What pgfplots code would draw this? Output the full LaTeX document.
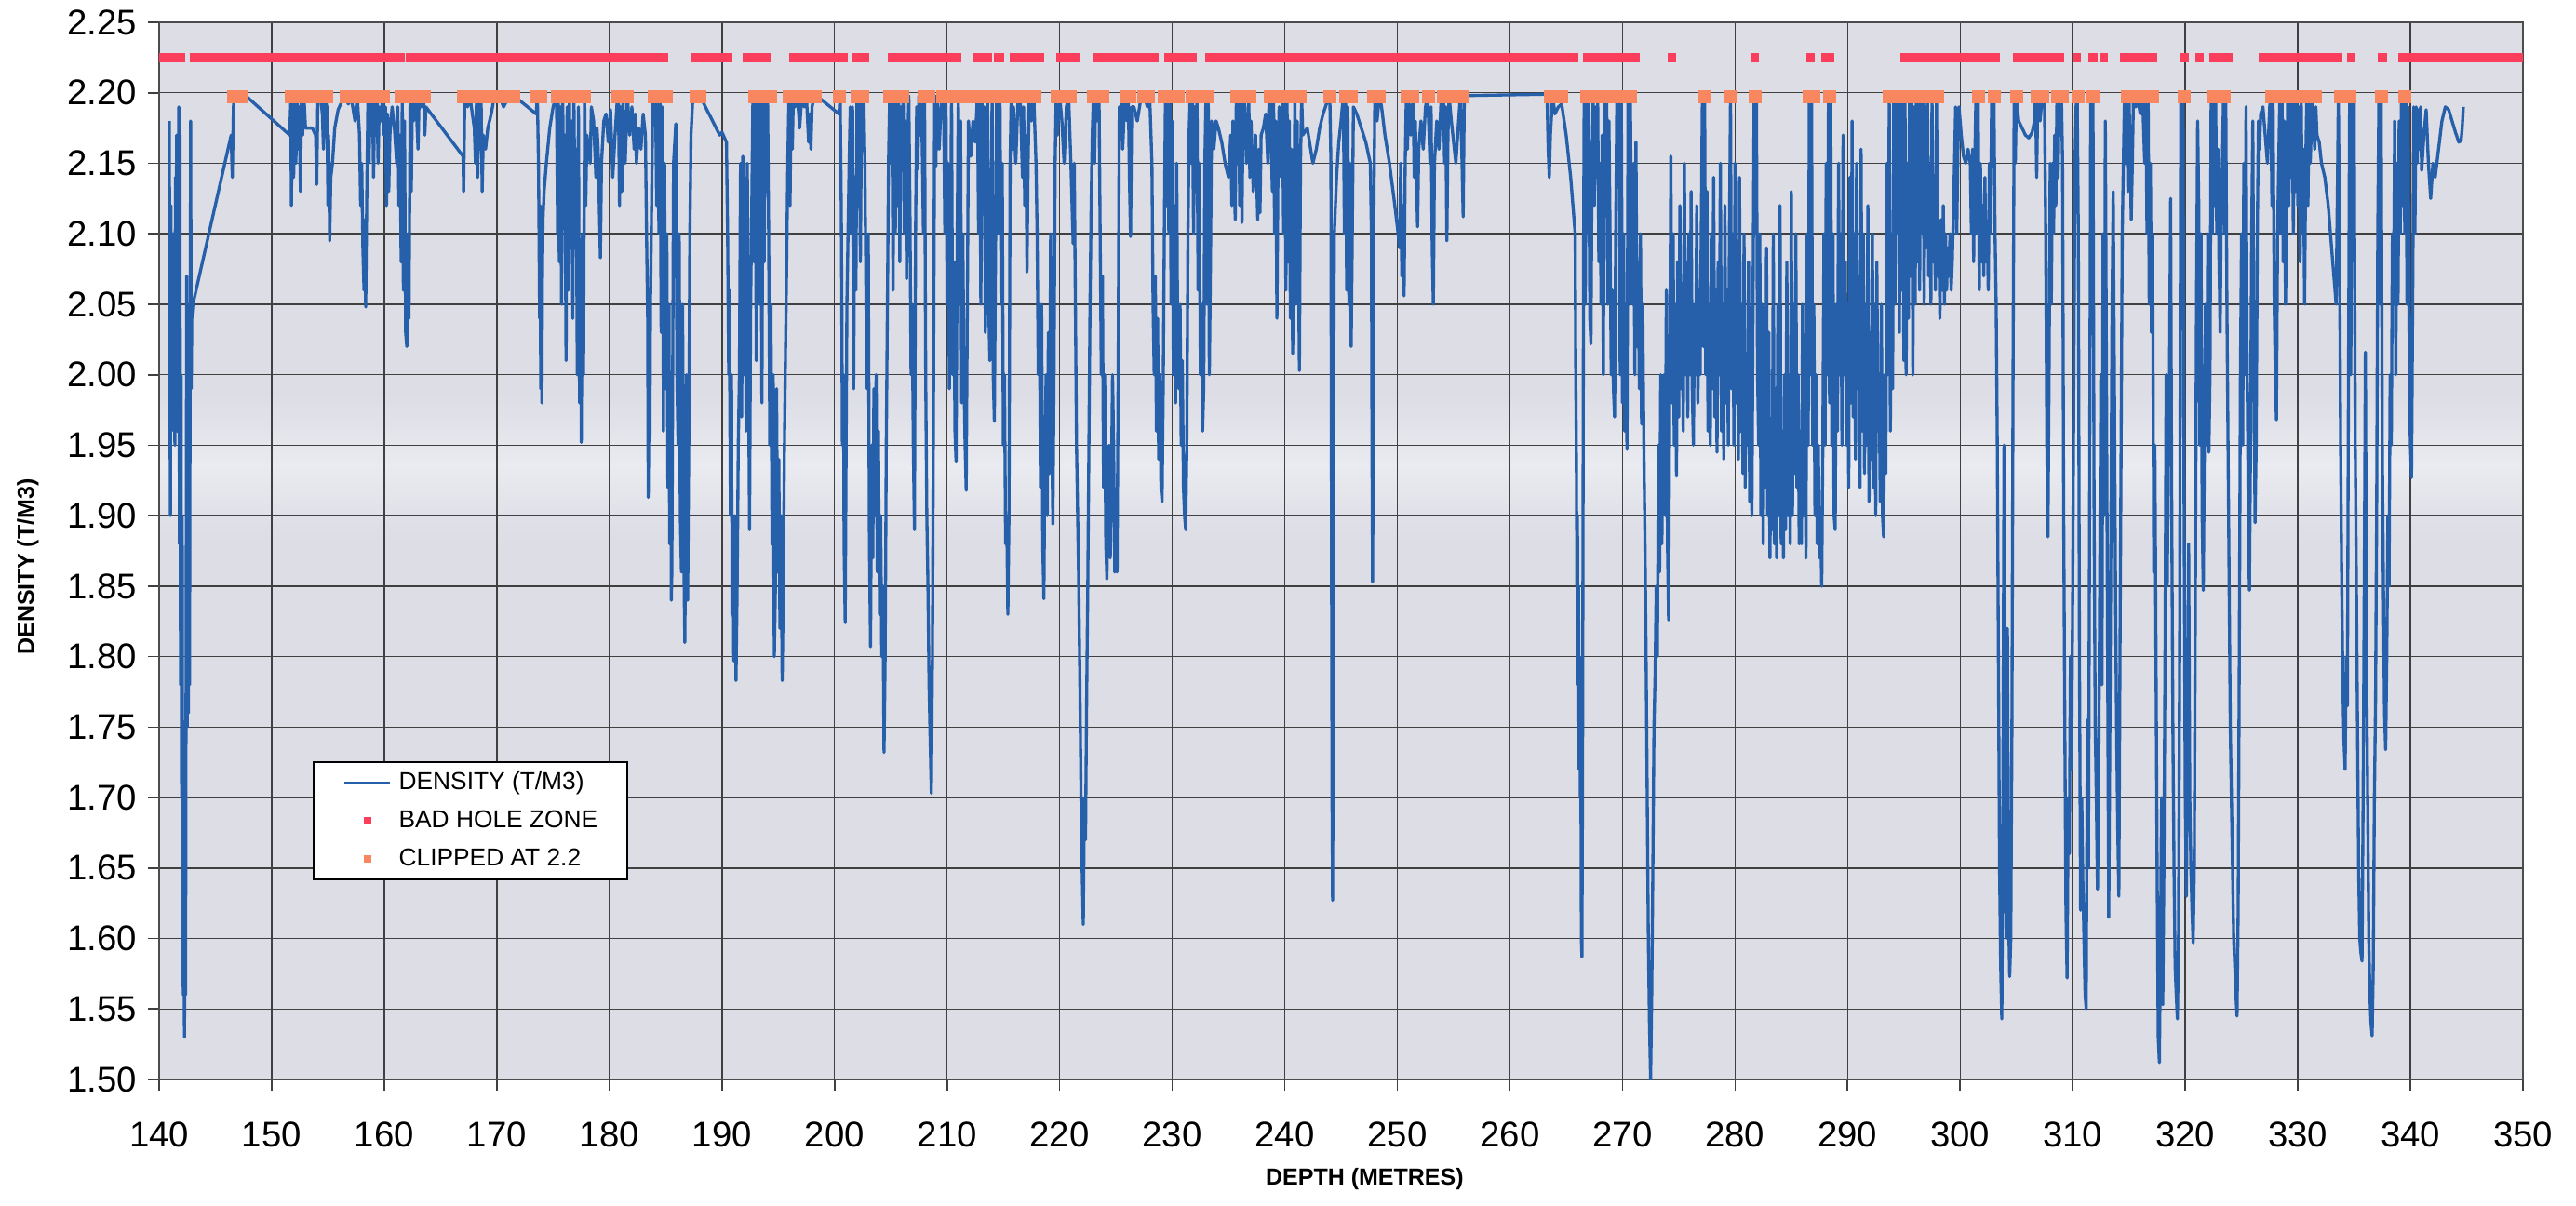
\documentclass[border=0pt]{standalone}
\usepackage{fontspec}
\setmainfont{Liberation Sans}
\usepackage{pgfplots}
\pgfplotsset{compat=1.18}
\definecolor{dblue}{RGB}{38,96,170}
\definecolor{badred}{RGB}{250,62,92}
\definecolor{clipor}{RGB}{248,135,95}
\definecolor{bggray}{RGB}{220,221,229}
\definecolor{bglight}{RGB}{234,235,240}
\pgfdeclareverticalshading{bgband}{100bp}{color(0bp)=(bggray); color(50.5bp)=(bggray); color(54bp)=(bglight); color(57.5bp)=(bggray); color(100bp)=(bggray)}
\begin{document}
\begin{tikzpicture}
\path[use as bounding box] (-51.3pt,-40.5pt) rectangle (779.1pt,348pt);
\begin{axis}[
  at={(0,0)}, anchor=south west,
  scale only axis, width=762pt, height=340.8pt,
  xmin=140, xmax=350, ymin=1.5, ymax=2.25,
  xtick={140,150,...,350},
  ytick={1.50,1.55,1.60,1.65,1.70,1.75,1.80,1.85,1.90,1.95,2.00,2.05,2.10,2.15,2.20,2.25},
  /pgf/number format/assume math mode=true,
  tick label style={font=\fontsize{11.5}{13}\selectfont},
  yticklabel style={/pgf/number format/.cd, fixed, fixed zerofill, precision=2},
  xticklabel style={yshift=-6.5pt, /pgf/number format/.cd, fixed, precision=0},
  tick align=outside, tick pos=left, major tick length=3.6pt,
  tick style={draw=black!75, line width=0.5pt},
  axis line style={draw=black!70, line width=0.6pt},
  grid=major, major grid style={draw=black!75, line width=0.45pt},
  axis background/.style={shade, shading=bgband},
  xlabel={DEPTH (METRES)}, ylabel={DENSITY (T/M3)},
  label style={font=\fontsize{7.5}{9}\selectfont\bfseries},
  xlabel style={at={(axis description cs:0.51,-0.094)}, anchor=center},
  ylabel style={at={(axis description cs:-0.0555,0.485)}, anchor=center},
  unbounded coords=jump,
  legend style={at={(axis description cs:0.0650,0.301)}, anchor=north west,
    draw=black, line width=0.5pt, fill=white,
    font=\fontsize{7.9}{9}\selectfont,
    inner xsep=9.6pt, inner ysep=2.75pt, row sep=4.6pt, column sep=2.4pt,
    nodes={inner sep=0pt, text height=6pt, text depth=1.7pt}},
  legend cell align=left,
]
\addplot[dblue, line width=1pt, line join=round,
  legend image code/.code={\draw[dblue, line width=0.8pt] (0pt,0pt) -- (14.7pt,0pt);}]
table {
x y
140.90 2.180
141.00 1.900
141.05 2.120
141.10 1.960
141.15 2.080
141.20 1.975
141.25 2.100
141.30 1.990
141.35 2.060
141.40 1.950
141.45 2.140
141.50 2.000
141.55 2.170
141.60 1.960
141.65 2.050
141.70 1.990
141.75 2.190
141.80 1.880
141.85 2.170
141.90 1.780
141.95 2.000
142.00 1.700
142.05 1.900
142.10 1.600
142.15 1.560
142.20 1.640
142.25 1.530
142.30 1.600
142.35 1.560
142.40 1.820
142.45 2.070
142.50 1.750
142.55 2.000
142.60 1.760
142.65 2.050
142.70 1.780
142.75 2.000
142.80 2.180
142.85 1.990
142.90 2.040
143.00 2.050
146.40 2.170
146.50 2.140
146.60 2.190
146.70 2.200
147.00 2.198
147.40 2.200
151.60 2.170
151.70 2.195
151.75 2.120
151.85 2.200
151.95 2.140
152.05 2.195
152.15 2.150
152.25 2.200
152.35 2.160
152.45 2.190
152.55 2.130
152.65 2.198
152.75 2.170
152.85 2.200
153.00 2.175
153.60 2.175
153.90 2.170
154.00 2.135
154.10 2.195
154.30 2.200
154.50 2.185
154.60 2.160
154.70 2.198
154.90 2.190
155.00 2.120
155.05 2.170
155.15 2.095
155.25 2.140
155.40 2.150
155.60 2.175
155.90 2.188
156.30 2.195
156.60 2.198
156.80 2.192
157.00 2.198
157.20 2.190
157.40 2.180
157.60 2.198
157.80 2.170
157.90 2.120
158.00 2.150
158.10 2.090
158.20 2.060
158.30 2.110
158.35 2.048
158.45 2.130
158.55 2.198
158.65 2.150
158.75 2.200
158.85 2.170
158.95 2.198
159.05 2.140
159.15 2.195
159.25 2.170
159.35 2.200
159.45 2.150
159.55 2.190
159.70 2.180
159.85 2.200
160.00 2.170
160.10 2.190
160.20 2.120
160.30 2.185
160.40 2.130
160.50 2.170
160.70 2.190
160.90 2.175
161.10 2.150
161.20 2.190
161.30 2.120
161.40 2.170
161.50 2.080
161.60 2.195
161.70 2.060
161.80 2.180
161.90 2.030
162.00 2.020
162.10 2.100
162.20 2.040
162.30 2.198
162.40 2.130
162.50 2.198
162.60 2.180
162.80 2.198
163.00 2.160
163.10 2.198
163.30 2.190
163.50 2.198
163.60 2.170
163.70 2.190
167.00 2.155
167.05 2.130
167.15 2.198
167.40 2.190
167.60 2.198
168.00 2.175
168.10 2.150
168.20 2.198
168.30 2.140
168.40 2.195
168.50 2.160
168.60 2.198
168.70 2.130
168.80 2.170
169.00 2.160
169.20 2.175
169.50 2.185
169.80 2.198
170.20 2.198
170.60 2.190
171.10 2.198
171.50 2.198
173.50 2.185
173.60 2.198
173.70 2.150
173.75 2.100
173.80 2.040
173.85 2.120
173.90 1.990
173.95 2.060
174.00 1.980
174.05 2.070
174.10 2.110
174.20 2.130
174.40 2.150
174.70 2.175
175.00 2.190
175.30 2.198
175.40 2.100
175.45 2.198
175.55 2.080
175.65 2.190
175.75 2.050
175.85 2.198
175.95 2.120
176.05 2.170
176.15 2.010
176.25 2.190
176.35 2.060
176.45 2.198
176.55 2.090
176.65 2.180
176.75 2.040
176.85 2.198
176.95 2.100
177.05 2.160
177.15 2.000
177.25 2.190
177.35 1.980
177.45 2.060
177.50 1.952
177.60 2.100
177.70 2.000
177.80 2.198
177.90 2.120
178.00 2.170
178.30 2.150
178.40 2.190
178.60 2.180
178.80 2.140
178.90 2.175
179.00 2.160
179.20 2.083
179.30 2.150
179.50 2.180
179.70 2.185
179.90 2.165
180.10 2.188
180.30 2.140
180.50 2.170
180.70 2.195
180.80 2.198
180.90 2.120
181.00 2.190
181.10 2.130
181.20 2.198
181.40 2.150
181.60 2.198
181.80 2.170
182.00 2.190
182.20 2.160
182.30 2.185
182.40 2.150
182.60 2.175
182.80 2.160
183.00 2.185
183.20 2.170
183.30 2.100
183.40 2.040
183.45 1.913
183.55 2.000
183.60 1.957
183.65 2.050
183.75 2.120
183.85 2.194
183.95 2.180
184.10 2.198
184.20 2.120
184.30 2.195
184.40 2.100
184.50 2.198
184.60 2.030
184.70 2.190
184.80 1.960
184.90 2.150
185.00 1.990
185.10 2.100
185.20 1.920
185.30 2.050
185.35 1.880
185.45 2.000
185.50 1.840
185.55 1.860
185.65 2.050
185.70 2.150
185.90 2.178
186.00 2.000
186.10 1.950
186.20 2.100
186.30 1.900
186.40 1.860
186.50 2.050
186.60 1.880
186.70 1.810
186.75 1.860
186.85 2.000
186.95 1.840
187.05 1.950
187.15 2.100
187.25 2.170
187.40 2.195
187.60 2.198
187.90 2.200
189.80 2.170
190.00 2.172
190.40 2.165
190.50 2.100
190.60 2.000
190.65 2.060
190.75 1.900
190.85 2.000
190.90 1.830
191.00 1.860
191.05 1.797
191.15 1.900
191.25 1.783
191.35 1.850
191.45 1.950
191.55 2.000
191.65 2.150
191.75 1.970
191.85 2.155
191.95 2.000
192.05 2.100
192.15 1.960
192.25 2.150
192.35 2.020
192.45 1.890
192.55 2.050
192.65 2.120
192.75 2.198
192.85 2.080
192.95 2.198
193.05 2.010
193.15 2.150
193.25 2.198
193.35 2.050
193.45 2.195
193.55 1.980
193.65 2.198
193.75 2.080
193.85 2.200
193.95 2.130
194.05 2.198
194.15 2.100
194.25 1.950
194.35 2.050
194.45 1.880
194.55 2.000
194.65 1.800
194.75 1.850
194.85 1.990
194.95 1.860
195.05 1.940
195.15 1.820
195.25 1.900
195.35 1.783
195.45 1.850
195.55 1.950
195.65 2.020
195.75 2.080
195.85 2.150
195.95 2.198
196.05 2.120
196.15 2.198
196.25 2.160
196.35 2.200
196.50 2.190
196.70 2.198
196.90 2.175
197.10 2.198
197.30 2.190
197.50 2.198
197.70 2.165
197.80 2.185
197.90 2.160
198.00 2.190
198.20 2.198
198.40 2.198
200.40 2.185
200.50 2.198
200.60 2.120
200.65 2.050
200.70 1.950
200.80 2.000
200.85 1.880
200.95 1.824
201.00 1.900
201.10 2.050
201.20 2.100
201.30 2.150
201.40 2.190
201.50 2.100
201.60 2.190
201.70 1.990
201.80 2.140
201.90 2.060
202.00 2.198
202.10 2.120
202.20 2.198
202.30 2.080
202.40 2.195
202.50 2.170
202.60 2.198
202.70 2.150
202.80 2.050
202.90 1.990
203.00 2.100
203.10 1.880
203.20 1.807
203.30 1.950
203.40 1.870
203.50 1.990
203.60 1.900
203.70 2.000
203.80 1.860
203.90 1.960
204.00 1.830
204.10 1.900
204.20 1.800
204.30 1.850
204.40 1.732
204.50 1.800
204.60 1.950
204.70 2.050
204.80 2.150
204.90 2.198
205.00 2.150
205.10 2.200
205.20 2.060
205.30 2.198
205.40 2.100
205.50 2.195
205.60 2.120
205.70 2.198
205.80 2.080
205.90 2.190
206.00 2.150
206.10 2.198
206.20 2.100
206.30 2.180
206.40 2.068
206.50 2.160
206.60 2.198
206.70 2.120
206.80 2.000
206.90 2.050
207.00 1.950
207.10 1.890
207.20 2.100
207.30 2.190
207.40 2.146
207.50 2.198
207.60 2.170
207.70 2.200
207.80 2.160
207.90 2.100
208.00 2.198
208.10 2.000
208.20 1.900
208.30 1.850
208.40 1.780
208.50 1.740
208.60 1.703
208.70 1.800
208.80 2.000
208.90 2.198
209.00 2.148
209.10 2.198
209.30 2.160
209.50 2.198
209.70 2.190
209.80 2.100
209.90 2.198
210.00 2.050
210.10 2.150
210.20 1.990
210.30 2.100
210.40 2.198
210.50 2.000
210.60 2.080
210.70 1.960
210.80 1.938
210.90 2.100
211.00 2.198
211.10 2.050
211.20 2.180
211.30 1.980
211.40 2.100
211.50 2.000
211.60 1.950
211.70 1.918
211.80 2.050
211.90 2.180
212.10 2.155
212.30 2.180
212.50 2.165
212.70 2.198
212.80 2.100
212.90 2.198
213.00 2.050
213.10 2.198
213.20 2.120
213.30 2.190
213.40 2.030
213.50 2.150
213.60 2.198
213.70 2.050
213.80 2.010
213.90 2.100
214.00 2.198
214.10 2.000
214.20 1.967
214.30 2.080
214.40 2.198
214.50 2.100
214.60 2.160
214.70 2.198
214.80 2.050
214.90 2.150
215.00 1.950
215.10 2.000
215.20 1.880
215.30 1.900
215.40 1.830
215.50 1.900
215.60 2.150
215.70 2.198
215.80 2.160
215.90 2.190
216.10 2.150
216.30 2.195
216.50 2.198
216.70 2.140
216.80 2.190
216.90 2.120
217.00 2.170
217.10 2.073
217.20 2.150
217.30 2.198
217.50 2.180
217.70 2.198
217.90 2.150
218.00 2.100
218.10 2.000
218.20 2.050
218.30 1.920
218.40 2.050
218.50 1.880
218.60 1.841
218.70 1.950
218.80 2.000
218.90 1.900
219.00 2.030
219.10 1.930
219.20 2.100
219.30 1.960
219.40 1.894
219.50 2.000
219.60 2.150
219.70 2.198
219.80 2.170
220.00 2.198
220.20 2.180
220.40 2.150
220.60 2.190
220.80 2.198
221.00 2.150
221.20 2.093
221.30 2.150
221.40 2.050
221.50 1.950
221.60 1.900
221.70 1.850
221.80 1.780
221.90 1.700
222.00 1.650
222.10 1.610
222.20 1.700
222.30 1.670
222.40 1.770
222.50 1.850
222.60 1.950
222.70 2.050
222.80 2.120
222.90 2.170
223.00 2.198
223.10 2.150
223.20 2.198
223.40 2.180
223.50 2.198
223.60 2.100
223.70 2.000
223.80 2.070
223.90 1.920
224.00 2.000
224.10 1.880
224.20 1.855
224.30 1.900
224.40 1.950
224.50 1.870
224.60 1.920
224.70 2.000
224.80 1.950
224.90 1.860
225.00 1.900
225.10 1.860
225.20 2.000
225.30 2.190
225.40 2.170
225.50 2.195
225.60 2.160
225.80 2.198
226.00 2.180
226.10 2.198
226.20 2.140
226.30 2.098
226.40 2.190
226.60 2.190
226.90 2.180
227.20 2.195
227.50 2.198
227.80 2.190
228.00 2.198
228.20 2.150
228.30 2.050
228.40 2.000
228.50 2.070
228.60 1.960
228.70 2.040
228.80 1.940
228.90 2.000
229.00 1.920
229.10 1.910
229.20 1.990
229.30 2.100
229.40 2.198
229.50 2.120
229.60 2.198
229.70 2.100
229.80 2.198
229.90 2.050
230.00 2.180
230.10 2.000
230.20 2.120
230.30 1.980
230.40 2.150
230.50 2.000
230.60 1.990
230.70 2.050
230.80 1.950
230.90 2.010
231.00 1.920
231.10 1.900
231.20 1.890
231.30 1.950
231.40 2.100
231.50 2.170
231.60 2.198
231.70 2.150
231.80 2.198
231.90 2.100
232.00 2.190
232.10 2.130
232.20 2.198
232.30 2.060
232.40 2.150
232.50 2.000
232.60 2.050
232.70 1.960
232.80 1.990
232.90 2.150
233.00 2.198
233.10 2.050
233.20 2.198
233.30 2.000
233.40 2.080
233.50 2.180
233.70 2.160
233.90 2.180
234.10 2.175
234.40 2.165
234.70 2.150
235.00 2.140
235.20 2.170
235.30 2.120
235.40 2.180
235.60 2.110
235.70 2.198
235.80 2.150
235.90 2.198
236.00 2.120
236.10 2.195
236.20 2.108
236.30 2.190
236.40 2.198
236.60 2.150
236.80 2.198
236.90 2.140
237.00 2.180
237.20 2.130
237.40 2.170
237.60 2.110
237.70 2.160
237.80 2.115
237.90 2.170
238.10 2.175
238.30 2.185
238.50 2.150
238.60 2.195
238.70 2.198
238.90 2.130
239.00 2.198
239.10 2.100
239.20 2.180
239.30 2.040
239.40 2.150
239.50 2.190
239.70 2.140
239.80 2.198
239.90 2.100
240.00 2.198
240.10 2.060
240.20 2.198
240.30 2.080
240.40 2.180
240.50 2.040
240.60 2.160
240.70 2.015
240.80 2.100
240.90 2.198
241.00 2.050
241.10 2.180
241.20 2.100
241.30 2.003
241.40 2.150
241.50 2.198
241.60 2.170
242.00 2.175
242.20 2.165
242.50 2.150
242.80 2.160
243.10 2.175
243.40 2.185
243.70 2.192
244.00 2.198
244.10 2.150
244.15 1.900
244.20 1.700
244.25 1.627
244.30 1.800
244.35 2.000
244.40 2.100
244.60 2.140
244.80 2.165
245.00 2.180
245.20 2.198
245.30 2.100
245.40 2.198
245.50 2.060
245.60 2.190
245.70 2.050
245.80 2.150
245.90 2.020
246.00 2.100
246.10 2.190
246.40 2.185
246.80 2.175
247.20 2.165
247.60 2.150
247.70 2.100
247.75 1.950
247.80 1.853
247.85 1.950
247.90 2.100
248.00 2.198
248.20 2.180
248.40 2.198
248.60 2.190
248.90 2.170
249.30 2.150
249.70 2.125
250.00 2.105
250.20 2.090
250.30 2.150
250.40 2.070
250.50 2.120
250.60 2.056
250.70 2.150
250.80 2.198
250.90 2.160
251.00 2.198
251.20 2.170
251.40 2.198
251.50 2.140
251.60 2.180
251.80 2.105
251.90 2.160
252.10 2.180
252.30 2.160
252.50 2.190
252.70 2.198
252.90 2.150
253.00 2.190
253.10 2.090
253.20 2.050
253.30 2.150
253.50 2.180
253.70 2.160
253.90 2.198
254.10 2.198
254.20 2.150
254.30 2.190
254.40 2.095
254.50 2.170
254.60 2.198
254.80 2.180
255.00 2.165
255.20 2.150
255.40 2.175
255.60 2.198
255.75 2.150
255.85 2.112
255.95 2.198
263.30 2.199
263.40 2.160
263.50 2.140
263.60 2.170
263.80 2.198
264.00 2.185
264.30 2.190
264.60 2.192
265.00 2.170
265.40 2.140
265.70 2.110
265.80 2.100
265.85 2.000
265.90 1.950
265.95 1.850
266.00 1.900
266.05 1.780
266.10 1.850
266.15 1.720
266.20 1.800
266.25 1.700
266.30 1.750
266.35 1.600
266.40 1.587
266.45 1.700
266.50 1.900
266.55 2.100
266.60 2.198
266.70 2.050
266.80 2.198
266.90 2.100
267.00 2.195
267.10 2.040
267.20 2.022
267.30 2.150
267.40 2.198
267.50 2.120
267.60 2.190
267.70 2.140
267.80 2.195
267.90 2.080
268.00 2.150
268.10 2.050
268.20 2.170
268.30 2.000
268.40 2.198
268.50 2.120
268.60 2.198
268.70 2.050
268.80 2.180
268.90 2.100
269.00 2.000
269.10 2.060
269.20 1.990
269.30 1.970
269.40 2.100
269.50 2.198
269.60 2.150
269.70 2.198
269.80 2.000
269.90 2.198
270.00 1.980
270.10 2.100
270.20 1.960
270.30 2.050
270.40 1.947
270.50 2.198
270.60 2.050
270.70 2.198
270.80 2.100
270.90 2.050
271.00 2.150
271.10 2.000
271.20 2.165
271.30 2.020
271.40 2.080
271.50 1.990
271.60 2.100
271.70 1.965
271.80 2.050
271.90 1.950
272.00 1.880
272.10 1.800
272.20 1.700
272.30 1.600
272.40 1.540
272.50 1.500
272.60 1.560
272.70 1.650
272.80 1.750
272.90 1.787
273.00 1.850
273.10 1.800
273.20 1.950
273.30 1.860
273.40 2.000
273.50 1.880
273.60 1.950
273.70 2.000
273.80 1.900
273.90 2.060
274.00 1.880
274.10 1.826
274.20 2.000
274.30 2.155
274.40 1.980
274.50 2.100
274.60 1.950
274.70 2.050
274.80 1.928
274.90 2.080
275.00 1.970
275.10 2.120
275.20 1.990
275.30 2.060
275.40 1.960
275.50 2.150
275.60 2.000
275.70 2.080
275.80 1.970
275.90 2.100
276.00 2.000
276.10 2.130
276.20 1.990
276.30 1.950
276.40 2.050
276.50 2.000
276.60 2.120
276.70 1.980
276.80 2.060
276.90 2.000
277.00 2.100
277.10 2.198
277.20 2.020
277.30 2.198
277.40 2.000
277.50 2.130
277.60 1.960
277.70 2.050
277.80 1.950
277.90 2.100
278.00 1.990
278.10 2.140
278.20 1.970
278.30 2.060
278.40 1.945
278.50 2.080
278.60 2.000
278.70 2.150
278.80 1.960
278.90 2.050
279.00 1.940
279.10 2.120
279.20 1.980
279.30 2.060
279.40 1.950
279.50 2.100
279.60 2.198
279.70 1.990
279.80 2.100
279.90 1.950
280.00 2.150
280.10 1.980
280.20 2.060
280.30 1.940
280.40 2.140
280.50 1.960
280.60 2.050
280.70 1.930
280.80 2.100
280.90 1.920
281.00 2.000
281.10 1.950
281.20 2.080
281.30 1.910
281.40 1.960
281.50 1.900
281.60 2.050
281.70 2.198
281.80 2.100
281.90 2.198
282.00 2.000
282.10 1.950
282.20 2.100
282.30 1.900
282.40 2.050
282.50 1.880
282.60 2.000
282.70 1.920
282.80 2.090
282.90 1.900
283.00 2.030
283.10 1.870
283.20 1.950
283.30 1.890
283.40 2.100
283.50 1.880
283.60 1.990
283.70 1.870
283.80 2.050
283.90 1.900
284.00 2.120
284.10 1.880
284.20 1.960
284.30 1.870
284.40 2.000
284.50 1.890
284.60 2.080
284.70 1.900
284.80 2.000
284.90 1.880
285.00 2.130
285.10 1.900
285.20 2.050
285.30 1.930
285.40 2.100
285.50 1.920
285.60 2.000
285.70 1.880
285.80 1.960
285.90 1.880
286.00 2.050
286.10 1.900
286.20 2.010
286.30 1.870
286.40 2.100
286.50 1.950
286.60 2.198
286.70 2.000
286.80 2.198
286.90 1.950
287.00 2.050
287.10 1.900
287.20 2.000
287.30 1.880
287.40 1.950
287.50 1.870
287.60 1.900
287.70 1.850
287.80 1.950
287.90 2.100
288.00 1.950
288.10 2.150
288.20 2.000
288.30 2.198
288.40 1.980
288.50 2.198
288.60 1.950
288.70 2.100
288.80 1.900
288.90 1.890
289.00 2.050
289.10 1.960
289.20 2.150
289.30 2.000
289.40 2.100
289.50 1.950
289.60 2.170
289.70 2.000
289.80 2.080
289.90 1.950
290.00 2.050
290.10 1.920
290.20 2.140
290.30 1.980
290.40 2.180
290.50 1.970
290.60 2.100
290.70 1.940
290.80 2.150
290.90 1.990
291.00 2.070
291.10 1.920
291.20 2.160
291.30 1.960
291.40 2.100
291.50 1.930
291.60 2.050
291.70 1.950
291.80 2.120
291.90 1.910
292.00 2.000
292.10 1.940
292.20 2.100
292.30 1.920
292.40 2.050
292.50 1.900
292.60 2.080
292.70 1.960
292.80 2.000
292.90 1.910
293.00 2.050
293.10 1.900
293.20 1.885
293.30 2.000
293.40 1.930
293.50 2.150
293.60 2.000
293.70 2.198
293.80 1.960
293.90 2.100
294.00 1.990
294.10 2.198
294.20 2.050
294.30 2.198
294.40 2.100
294.50 2.198
294.60 2.030
294.70 2.198
294.80 2.060
294.90 2.198
295.00 2.010
295.10 2.198
295.20 2.000
295.30 2.150
295.40 2.040
295.50 2.198
295.60 2.070
295.70 2.198
295.80 2.000
295.90 2.190
296.00 2.050
296.10 2.198
296.20 2.080
296.30 2.198
296.40 2.060
296.50 2.198
296.60 2.100
296.70 2.198
296.80 2.050
296.90 2.190
297.00 2.090
297.10 2.198
297.20 2.070
297.30 2.150
297.40 2.050
297.50 2.198
297.60 2.080
297.70 2.120
297.80 2.060
297.90 2.198
298.00 2.070
298.10 2.100
298.20 2.040
298.30 2.110
298.40 2.060
298.50 2.120
298.60 2.050
298.70 2.100
298.80 2.060
298.90 2.090
299.00 2.070
299.10 2.100
299.20 2.060
299.30 2.080
299.50 2.150
299.60 2.190
299.70 2.100
299.80 2.160
299.90 2.190
300.10 2.170
300.30 2.155
300.50 2.150
300.70 2.160
300.90 2.150
301.00 2.100
301.10 2.160
301.20 2.080
301.30 2.150
301.40 2.198
301.50 2.100
301.60 2.198
301.70 2.060
301.80 2.150
301.90 2.080
302.00 2.120
302.10 2.070
302.20 2.140
302.30 2.080
302.40 2.100
302.50 2.060
302.60 2.150
302.70 2.100
302.80 2.198
302.90 2.150
303.00 2.198
303.10 2.100
303.20 2.050
303.30 1.950
303.40 1.800
303.50 1.650
303.60 1.580
303.70 1.543
303.80 1.700
303.90 1.950
304.00 1.650
304.10 1.600
304.20 1.820
304.30 1.620
304.40 1.573
304.50 1.600
304.60 1.750
304.70 2.000
304.80 2.198
304.90 2.150
305.00 2.198
305.20 2.180
305.50 2.175
305.80 2.170
306.10 2.168
306.40 2.172
306.60 2.180
306.70 2.198
306.80 2.140
306.90 2.198
307.10 2.180
307.30 2.198
307.50 2.190
307.60 2.100
307.70 1.950
307.80 1.885
307.90 2.000
308.00 2.150
308.10 2.050
308.20 2.150
308.30 2.100
308.40 2.170
308.50 2.120
308.60 2.198
308.70 2.140
308.80 2.198
308.90 2.180
309.00 2.198
309.10 2.150
309.20 1.900
309.30 1.750
309.40 1.620
309.50 1.572
309.60 1.700
309.70 1.660
309.80 1.800
309.90 1.720
310.00 1.850
310.10 2.000
310.20 2.150
310.30 2.190
310.40 2.198
310.50 2.100
310.60 1.800
310.70 1.620
310.80 1.700
310.90 1.640
311.00 1.600
311.10 1.560
311.20 1.550
311.30 1.755
311.40 1.650
311.50 1.900
311.60 2.198
311.70 2.150
311.80 2.198
311.90 1.900
312.00 1.750
312.10 1.700
312.20 1.635
312.30 1.700
312.40 1.850
312.50 2.000
312.60 1.780
312.70 2.100
312.80 1.900
312.90 2.180
313.00 2.000
313.10 1.800
313.20 1.615
313.30 1.750
313.40 1.900
313.50 2.050
313.60 2.130
313.70 2.000
313.80 1.850
313.90 1.750
314.00 1.680
314.10 1.630
314.20 1.800
314.30 1.950
314.40 2.100
314.50 2.150
314.60 2.198
314.70 2.150
314.80 2.198
314.90 2.130
315.00 2.198
315.10 2.160
315.20 2.110
315.30 2.150
315.40 2.198
315.60 2.190
315.80 2.195
316.00 2.185
316.20 2.198
316.40 2.150
316.50 2.198
316.60 2.100
316.70 2.198
316.80 2.050
316.90 2.150
317.00 2.030
317.10 2.100
317.20 1.860
317.30 1.950
317.40 1.800
317.50 1.650
317.60 1.530
317.70 1.512
317.80 1.600
317.90 1.700
318.00 1.553
318.10 1.650
318.20 1.800
318.30 2.000
318.40 1.850
318.50 1.950
318.60 2.000
318.70 2.125
318.80 1.900
318.90 1.750
319.00 1.650
319.10 1.580
319.20 1.560
319.30 1.543
319.40 1.600
319.50 1.800
319.60 2.198
319.70 2.100
319.80 2.198
319.90 1.900
320.00 1.700
320.10 1.630
320.20 1.750
320.30 1.880
320.40 1.700
320.50 1.650
320.60 1.620
320.70 1.597
320.80 1.650
320.90 1.850
321.00 2.050
321.10 2.180
321.20 2.120
321.30 1.950
321.40 2.100
321.50 1.900
321.60 1.847
321.70 1.950
321.80 2.050
321.90 1.950
322.00 2.100
322.10 1.945
322.20 2.000
322.30 2.198
322.40 2.100
322.50 2.198
322.60 2.120
322.70 2.198
322.80 2.100
322.90 2.160
323.00 2.080
323.10 2.030
323.20 2.120
323.30 2.150
323.40 2.198
323.50 2.100
323.60 2.198
323.70 2.050
323.80 1.950
323.90 1.850
324.00 1.750
324.10 1.700
324.20 1.650
324.30 1.600
324.40 1.580
324.50 1.560
324.60 1.545
324.70 1.620
324.80 1.800
324.90 2.000
325.00 2.100
325.10 1.950
325.20 2.150
325.30 2.000
325.40 2.190
325.50 2.000
325.60 1.900
325.70 1.847
325.80 1.950
325.90 2.100
326.00 2.180
326.10 2.000
326.20 1.895
326.30 1.950
326.40 2.100
326.50 2.180
326.60 2.160
326.70 2.185
326.90 2.190
327.10 2.170
327.30 2.150
327.50 2.190
327.60 2.198
327.70 2.120
327.80 2.198
327.90 2.050
328.00 2.000
328.10 1.968
328.20 2.100
328.30 2.150
328.40 2.198
328.50 2.100
328.60 2.198
328.70 2.080
328.80 2.180
328.90 2.050
329.00 2.100
329.10 2.198
329.20 2.120
329.30 2.198
329.40 2.140
329.50 2.198
329.60 2.100
329.70 2.198
329.80 2.130
329.90 2.198
330.00 2.120
330.10 2.190
330.20 2.080
330.30 2.198
330.40 2.100
330.50 2.160
330.60 2.050
330.70 2.150
330.80 2.198
330.90 2.120
331.00 2.198
331.10 2.150
331.30 2.198
331.50 2.160
331.60 2.190
331.70 2.170
331.90 2.165
332.10 2.150
332.40 2.140
332.70 2.120
333.00 2.090
333.20 2.070
333.40 2.050
333.50 2.120
333.60 2.198
333.70 2.100
333.80 1.950
333.90 1.850
334.00 1.780
334.10 1.740
334.20 1.720
334.30 1.800
334.40 1.765
334.50 2.000
334.60 2.198
334.70 2.000
334.80 2.198
334.90 2.100
335.00 2.198
335.10 1.950
335.20 1.850
335.30 1.750
335.40 1.650
335.50 1.600
335.60 1.590
335.70 1.584
335.80 1.700
335.90 1.850
336.00 2.016
336.10 1.800
336.20 1.700
336.30 1.600
336.40 1.560
336.50 1.540
336.60 1.531
336.70 1.580
336.80 1.700
336.90 1.765
337.00 1.900
337.10 2.100
337.20 2.198
337.30 2.050
337.40 2.198
337.50 1.950
337.60 1.850
337.70 1.760
337.80 1.734
337.90 1.800
338.00 1.900
338.10 1.850
338.20 2.000
338.30 1.950
338.40 2.100
338.50 2.050
338.60 2.180
338.70 2.000
338.80 2.150
338.90 2.050
339.00 2.180
339.10 2.100
339.20 2.198
339.30 2.120
339.40 2.198
339.50 2.100
339.60 2.198
339.70 2.050
339.80 2.190
339.90 2.000
340.00 1.950
340.10 1.927
340.20 2.050
340.30 2.190
340.40 2.100
340.50 2.190
340.60 2.150
340.70 2.188
340.80 2.160
340.90 2.190
341.00 2.145
341.20 2.170
341.40 2.188
341.60 2.150
341.80 2.125
342.00 2.150
342.20 2.140
342.50 2.160
342.80 2.180
343.10 2.190
343.40 2.188
343.70 2.180
344.00 2.172
344.30 2.165
344.50 2.166
344.60 2.175
344.70 2.190
};
\addlegendentry{DENSITY (T/M3)}
\addplot[badred, line width=3.1pt, line cap=butt,
  legend image code/.code={\fill[badred, draw=none, line width=0pt] (6.1pt,-1.2pt) rectangle ++(2.4pt,2.4pt);}]
table {
x y
140.0 2.225
142.3 2.225
nan nan
142.7 2.225
161.85 2.225
nan nan
161.95 2.225
185.2 2.225
nan nan
187.2 2.225
190.9 2.225
nan nan
191.8 2.225
194.3 2.225
nan nan
196.0 2.225
201.2 2.225
nan nan
201.6 2.225
203.1 2.225
nan nan
204.7 2.225
211.3 2.225
nan nan
212.3 2.225
214.0 2.225
nan nan
214.2 2.225
215.1 2.225
nan nan
215.6 2.225
218.6 2.225
nan nan
219.7 2.225
221.8 2.225
nan nan
223.0 2.225
228.8 2.225
nan nan
229.3 2.225
232.2 2.225
nan nan
232.9 2.225
266.1 2.225
nan nan
266.5 2.225
271.5 2.225
nan nan
274.0 2.225
274.8 2.225
nan nan
281.5 2.225
282.1 2.225
nan nan
286.3 2.225
287.1 2.225
nan nan
287.7 2.225
288.8 2.225
nan nan
294.7 2.225
303.5 2.225
nan nan
304.7 2.225
309.2 2.225
nan nan
310.0 2.225
310.7 2.225
nan nan
311.4 2.225
312.2 2.225
nan nan
312.5 2.225
313.1 2.225
nan nan
314.2 2.225
317.5 2.225
nan nan
319.6 2.225
320.3 2.225
nan nan
320.9 2.225
321.6 2.225
nan nan
322.1 2.225
324.2 2.225
nan nan
326.5 2.225
334.0 2.225
nan nan
334.4 2.225
335.1 2.225
nan nan
337.1 2.225
337.9 2.225
nan nan
338.9 2.225
350.0 2.225
};
\addlegendentry{BAD HOLE ZONE}
\addplot[only marks, mark=square*, mark size=1.9pt, mark options={draw=clipor, fill=clipor},
  legend image code/.code={\fill[clipor, draw=none, line width=0pt] (6.1pt,-1.2pt) rectangle ++(2.4pt,2.4pt);}]
coordinates {
(146.6,2.197)(147.0,2.197)(147.3,2.197)(151.7,2.197)(152.0,2.197)(152.3,2.197)(152.6,2.197)(152.9,2.197)(153.2,2.197)
(154.3,2.197)(154.6,2.197)(154.9,2.197)(156.6,2.197)(157.0,2.197)(157.6,2.197)(158.7,2.197)(159.0,2.197)(159.3,2.197)
(159.6,2.197)(159.9,2.197)(161.5,2.197)(161.8,2.197)(162.1,2.197)(162.5,2.197)(162.9,2.197)(163.3,2.197)(163.6,2.197)
(167.0,2.197)(167.4,2.197)(168.1,2.197)(168.5,2.197)(168.9,2.197)(169.8,2.197)(170.2,2.197)(171.1,2.197)(171.5,2.197)
(173.5,2.197)(173.9,2.197)(175.4,2.197)(175.7,2.197)(176.0,2.197)(176.3,2.197)(176.6,2.197)(176.9,2.197)(177.2,2.197)
(177.5,2.197)(177.8,2.197)(180.8,2.197)(181.2,2.197)(181.6,2.197)(184.0,2.197)(184.3,2.197)(184.7,2.197)(185.1,2.197)
(187.7,2.197)(188.0,2.197)(192.9,2.197)(193.9,2.197)(194.3,2.197)(196.0,2.197)(196.4,2.197)(196.8,2.197)(197.2,2.197)
(197.6,2.197)(198.0,2.197)(198.3,2.197)(200.4,2.197)(202.0,2.197)(202.5,2.197)(204.9,2.197)(205.3,2.197)(205.7,2.197)
(206.1,2.197)(208.0,2.197)(208.4,2.197)(209.6,2.197)(210.0,2.197)(210.9,2.197)(211.4,2.197)(211.7,2.197)(212.8,2.197)
(213.2,2.197)(213.6,2.197)(214.0,2.197)(214.4,2.197)(215.6,2.197)(216.5,2.197)(216.9,2.197)(217.4,2.197)(217.8,2.197)
(219.8,2.197)(220.2,2.197)(220.9,2.197)(223.0,2.197)(223.4,2.197)(223.8,2.197)(225.9,2.197)(226.2,2.197)(227.5,2.197)
(227.9,2.197)(229.3,2.197)(229.7,2.197)(230.1,2.197)(230.5,2.197)(231.8,2.197)(232.2,2.197)(233.2,2.197)(235.7,2.197)
(236.1,2.197)(236.5,2.197)(236.9,2.197)(238.7,2.197)(239.1,2.197)(240.2,2.197)(240.6,2.197)(241.0,2.197)(241.4,2.197)
(244.0,2.197)(245.4,2.197)(245.9,2.197)(247.9,2.197)(248.4,2.197)(250.9,2.197)(251.4,2.197)(252.8,2.197)(254.1,2.197)
(254.6,2.197)(255.8,2.197)(263.6,2.197)(264.6,2.197)(266.8,2.197)(267.2,2.197)(267.6,2.197)(268.3,2.197)(268.7,2.197)
(269.5,2.197)(269.9,2.197)(270.3,2.197)(270.7,2.197)(277.3,2.197)(279.6,2.197)(281.8,2.197)(286.6,2.197)(287.0,2.197)
(288.4,2.197)(293.7,2.197)(294.1,2.197)(294.5,2.197)(294.9,2.197)(295.3,2.197)(295.7,2.197)(296.1,2.197)(296.5,2.197)
(296.9,2.197)(297.3,2.197)(297.7,2.197)(298.0,2.197)(301.6,2.197)(303.0,2.197)(305.0,2.197)(306.8,2.197)(307.3,2.197)
(308.7,2.197)(309.1,2.197)(310.5,2.197)(311.8,2.197)(314.9,2.197)(315.4,2.197)(316.4,2.197)(316.8,2.197)(317.1,2.197)
(319.9,2.197)(322.5,2.197)(322.9,2.197)(323.5,2.197)(327.7,2.197)(328.7,2.197)(329.1,2.197)(329.5,2.197)(329.9,2.197)
(330.3,2.197)(330.7,2.197)(331.1,2.197)(331.6,2.197)(333.8,2.197)(334.6,2.197)(337.4,2.197)(339.5,2.197)
};
\addlegendentry{CLIPPED AT 2.2}
\end{axis}
\end{tikzpicture}
\end{document}
